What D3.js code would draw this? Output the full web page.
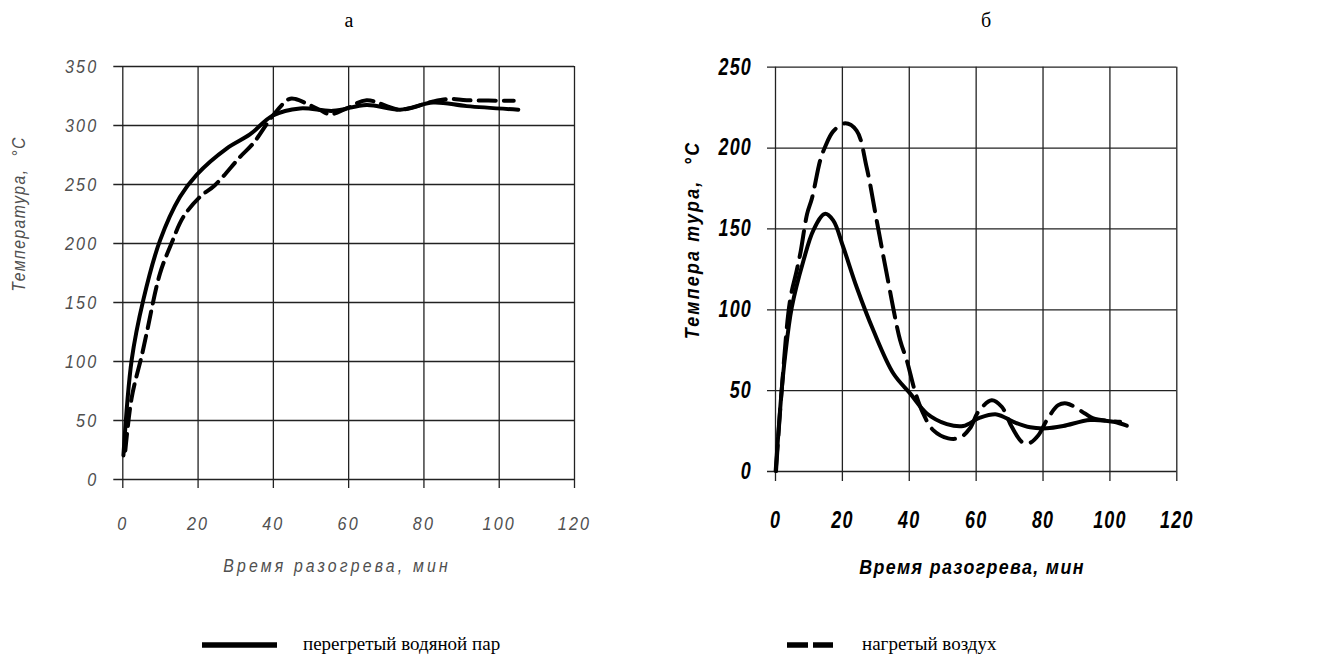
<!DOCTYPE html>
<html>
<head>
<meta charset="utf-8">
<script src="https://cdn.jsdelivr.net/npm/d3@7"></script>
<style>
  html, body { margin: 0; padding: 0; background: #fff; }
  svg { display: block; }
</style>
</head>
<body>
<svg id="chart" width="1342" height="659"></svg>
<script>
// Heating time, minutes, and temperature, °C — panel "а"
const steamTimeA = [0.3, 2.5, 5.6, 10, 15.3, 19.8, 27.7, 33.9, 40, 47.2, 56, 64.9, 73.8, 82.6, 91.5, 105.2];
const steamTempA = [20, 101, 152, 202, 239, 258, 280, 292, 308, 314, 312, 317, 313, 319, 316, 313];
const airTimeA = [0.8, 2.5, 5.2, 6.5, 10, 13.1, 16.2, 20.6, 24.6, 31.3, 34.8, 40, 44.3, 46, 52.5, 55.2, 59.6, 64.9, 73.8, 82.6, 87, 91.5, 104];
const airTempA = [24, 69, 105, 124, 174, 200, 222, 239, 249, 273, 284.5, 308, 322, 322, 312.7, 309, 314, 321, 313, 320, 322, 321, 320.6];

// Panel "б"
const steamTimeB = [0.2, 2, 3, 5, 8.5, 11.5, 14.9, 17.4, 20.4, 24.4, 29.4, 35.4, 40.4, 45.4, 51.4, 56.3, 61.3, 66.3, 71.3, 76.3, 81.3, 86.2, 94.2, 101.2, 105.2];
const steamTempB = [0, 50, 70.6, 101, 130, 149, 159, 155, 138.5, 113.8, 87, 60.3, 48, 35.6, 29, 27.8, 33, 35, 30.4, 27, 26.4, 27.8, 31.5, 30.4, 28];
const airTimeB = [0.3, 2, 4.5, 6.5, 7.7, 9.6, 11.1, 13.5, 14.9, 17.4, 21, 24.4, 27.4, 30.4, 33.4, 37.4, 39.4, 41.9, 44.3, 47.3, 51.8, 55.3, 58.3, 60.8, 64.8, 67.8, 70.8, 73.8, 75.8, 78.7, 81.3, 84.7, 87.2, 92.7, 95.2, 103.2];
const airTempB = [0, 50, 105.5, 124, 136, 159, 169, 192, 200, 210, 215, 210.5, 187.8, 155, 122, 81, 68.5, 49, 35.6, 25.3, 20.2, 20.6, 26.4, 36.6, 43.8, 39.7, 27.3, 18, 17, 22, 31.5, 40.7, 41.8, 35.6, 32.5, 30.4];

const xTicks = [0, 20, 40, 60, 80, 100, 120];
const yTicksA = [0, 50, 100, 150, 200, 250, 300, 350];
const yTicksB = [0, 50, 100, 150, 200, 250];

const panelTitles = ["а", "б"];
const xTitle = "Время разогрева, мин";
const yTitleA = "Температура,  °С";
const yTitleB = "Темпера тура,  °С";
const legendLabels = ["перегретый водяной пар", "нагретый воздух"];

const svg = d3.select("#chart");
svg.append("rect").attr("width", 1342).attr("height", 659).attr("fill", "#fff");

const zip = (xs, ys) => xs.map((t, i) => [t, ys[i]]);

// squeeze a text element horizontally around its own anchor point
function squeeze(sel, s) {
  if (s === 1) return;
  sel.each(function () {
    const t = d3.select(this);
    const ax = +t.attr("x") || 0;
    const prev = t.attr("transform") || "";
    t.attr("transform", `${prev} translate(${ax},0) scale(${s},1) translate(${-ax},0)`);
  });
}

function panel(cfg) {
  const x = d3.scaleLinear().domain([0, 120]).range([cfg.left, cfg.right]);
  const y = d3.scaleLinear().domain([0, cfg.yMax]).range([cfg.bottom, cfg.top]);
  const g = svg.append("g");

  // horizontal grid with outward ticks and value labels
  const ya = g.append("g")
    .attr("transform", `translate(${cfg.right},0)`)
    .call(d3.axisLeft(y).tickValues(cfg.yTicks).tickSize(cfg.right - cfg.left + cfg.tickOut).tickPadding(cfg.yPad));
  // vertical grid with outward ticks and value labels
  const xa = g.append("g")
    .attr("transform", `translate(0,${cfg.top})`)
    .call(d3.axisBottom(x).tickValues(xTicks).tickSize(cfg.bottom - cfg.top + cfg.tickOutX).tickPadding(cfg.xPad));

  [ya, xa].forEach(a => {
    a.select(".domain").remove();
    a.selectAll(".tick line").attr("stroke", "#222").attr("stroke-width", 1.3);
    const tt = a.selectAll(".tick text")
      .attr("font-family", cfg.font)
      .attr("font-style", "italic")
      .attr("font-weight", cfg.weight)
      .attr("font-size", cfg.tickSize)
      .attr("letter-spacing", cfg.tickSpacing)
      .attr("fill", cfg.textColor);
    squeeze(tt, cfg.tickScale);
  });

  const line = d3.line().x(d => x(d[0])).y(d => y(d[1])).curve(d3.curveCatmullRom.alpha(0.5));

  g.append("path").datum(zip(cfg.steamT, cfg.steamV))
    .attr("d", line).attr("fill", "none").attr("stroke", "#000")
    .attr("stroke-width", cfg.lw).attr("stroke-linecap", "round").attr("stroke-linejoin", "round");
  g.append("path").datum(zip(cfg.airT, cfg.airV))
    .attr("d", line).attr("fill", "none").attr("stroke", "#000")
    .attr("stroke-width", cfg.lw).attr("stroke-linecap", "round").attr("stroke-linejoin", "round")
    .attr("stroke-dasharray", cfg.dash);

  // axis titles
  const xt = g.append("text")
    .attr("x", cfg.xTitlePos[0]).attr("y", cfg.xTitlePos[1])
    .attr("text-anchor", "middle")
    .attr("font-family", cfg.font).attr("font-style", "italic").attr("font-weight", cfg.weight)
    .attr("font-size", cfg.titleSize).attr("letter-spacing", cfg.titleSpacing)
    .attr("fill", cfg.textColor)
    .text(xTitle);
  squeeze(xt, cfg.titleScale);
  g.append("text")
    .attr("transform", `translate(${cfg.yTitlePos[0]},${cfg.yTitlePos[1]}) rotate(-90) scale(${cfg.titleScale},1)`)
    .attr("text-anchor", "middle").attr("dy", "0.35em")
    .attr("font-family", cfg.font).attr("font-style", "italic").attr("font-weight", cfg.weight)
    .attr("font-size", cfg.titleSize).attr("letter-spacing", cfg.yTitleSpacing)
    .attr("fill", cfg.textColor)
    .style("white-space", "pre")
    .text(cfg.yTitle);

  // panel letter
  g.append("text")
    .attr("x", cfg.letterX).attr("y", 27)
    .attr("text-anchor", "middle")
    .attr("font-family", "Liberation Serif, Times New Roman, serif")
    .attr("font-size", 20).attr("fill", "#000")
    .text(cfg.letter);
}

panel({
  left: 122.3, right: 574, top: 66, bottom: 479, yMax: 350, yTicks: yTicksA,
  tickOut: 9, tickOutX: 9, yPad: 15, xPad: 29,
  font: "Liberation Sans, Arial, sans-serif", weight: "normal",
  tickSize: 19, tickSpacing: 2.5, tickScale: 0.85, textColor: "#505050",
  titleSize: 18, titleSpacing: 3.6, yTitleSpacing: 1.6, titleScale: 0.88,
  xTitlePos: [337, 572], yTitlePos: [19, 214], yTitle: yTitleA,
  steamT: steamTimeA, steamV: steamTempA, airT: airTimeA, airV: airTempA,
  lw: 4, dash: "17,8",
  letter: panelTitles[0], letterX: 349
});

panel({
  left: 775, right: 1176.3, top: 66.7, bottom: 471, yMax: 250, yTicks: yTicksB,
  tickOut: 8, tickOutX: 10, yPad: 15, xPad: 31,
  font: "Liberation Sans, Arial, sans-serif", weight: "bold",
  tickSize: 23, tickSpacing: 1.5, tickScale: 0.78, textColor: "#000",
  titleSize: 21, titleSpacing: 1.6, yTitleSpacing: 2.6, titleScale: 0.85,
  xTitlePos: [972, 574], yTitlePos: [692, 240], yTitle: yTitleB,
  steamT: steamTimeB, steamV: steamTempB, airT: airTimeB, airV: airTempB,
  lw: 4, dash: "26,10",
  letter: panelTitles[1], letterX: 986
});

// legend
const legend = svg.append("g").attr("font-family", "Liberation Serif, Times New Roman, serif").attr("font-size", 19);
legend.append("line").attr("x1", 202).attr("x2", 277).attr("y1", 645).attr("y2", 645)
  .attr("stroke", "#000").attr("stroke-width", 5.5);
legend.append("text").attr("x", 303).attr("y", 650).text(legendLabels[0]);
legend.append("line").attr("x1", 787).attr("x2", 833).attr("y1", 645).attr("y2", 645)
  .attr("stroke", "#000").attr("stroke-width", 5.5).attr("stroke-dasharray", "21,5");
legend.append("text").attr("x", 862).attr("y", 650).text(legendLabels[1]);
</script>
</body>
</html>
